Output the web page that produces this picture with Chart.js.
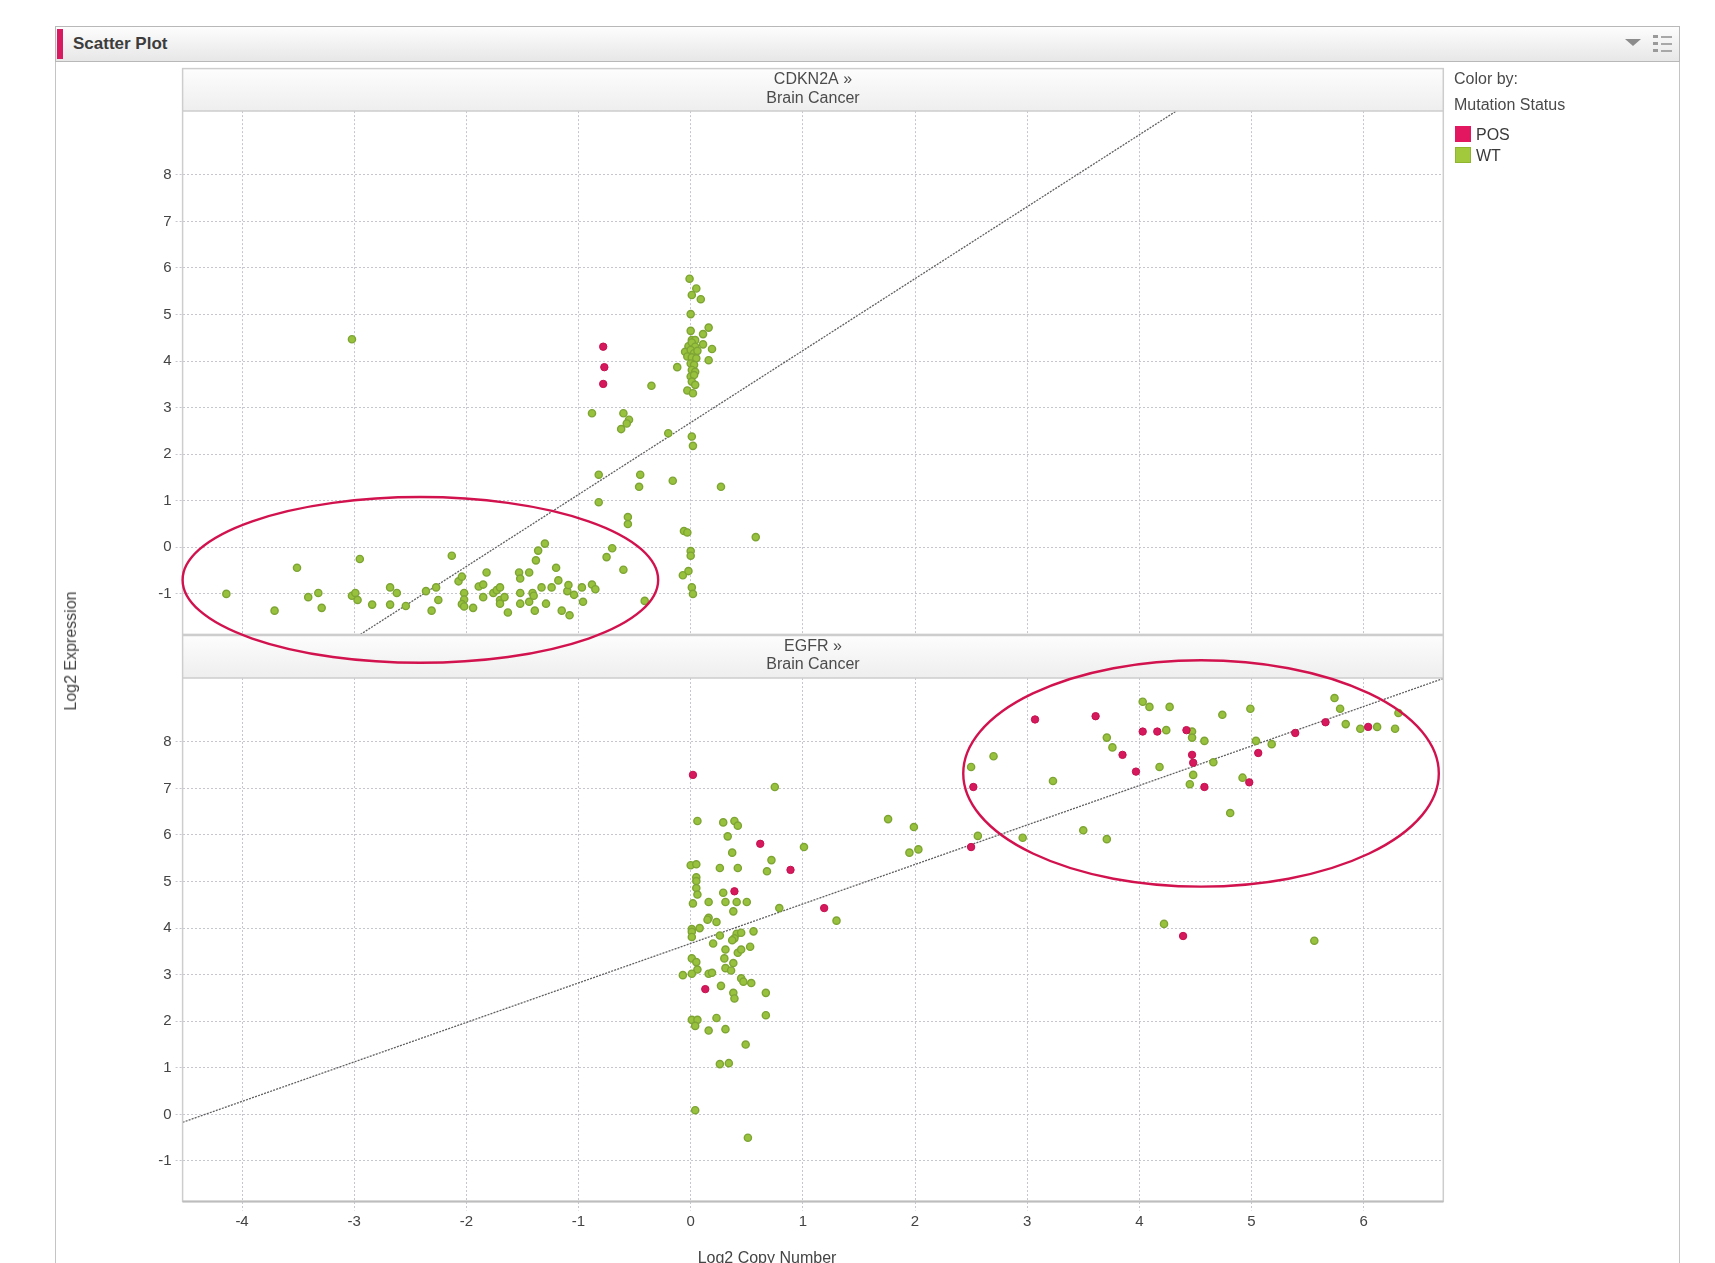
<!DOCTYPE html>
<html>
<head>
<meta charset="utf-8">
<title>Scatter Plot</title>
<script src="https://cdn.jsdelivr.net/npm/chart.js@4.4.1/dist/chart.umd.min.js"></script>
<style>
  html, body { margin: 0; padding: 0; background: #fff; }
  body { width: 1715px; height: 1263px; overflow: hidden; position: relative;
         font-family: "Liberation Sans", Arial, sans-serif; color: #444; }
  .frame { position: absolute; left: 55px; top: 26px; width: 1625px; height: 1300px;
           box-sizing: border-box; border: 1px solid #c4c4c4; }
  .bar { position: absolute; left: 55px; top: 26px; width: 1625px; height: 36px; box-sizing: border-box;
         border: 1px solid #b8b8b8; background: linear-gradient(#fdfdfd, #e7e7e7); }
  .accent { position: absolute; left: 57px; top: 29px; width: 6px; height: 30px; background: #d81b60; }
  .bar-title { position: absolute; left: 73px; top: 26px; line-height: 36px; font-size: 17px;
               font-weight: bold; color: #3c3c3c; }
  .drop { position: absolute; left: 1625px; top: 39px; width: 0; height: 0;
          border-left: 8px solid transparent; border-right: 8px solid transparent; border-top: 7px solid #8c8c8c; }
  .list-icon { position: absolute; left: 1653px; top: 35px; width: 19px; height: 19px; }
  .list-icon span { position: absolute; left: 0; width: 5px; height: 3px; background: #9a9a9a; }
  .list-icon i { position: absolute; left: 8px; width: 11px; height: 1.5px; background: #a8a8a8; }
  canvas { position: absolute; left: 0; top: 0; }
  #topChart { z-index: 3; }
  #bottomChart { z-index: 2; }
  .ytitle { position: absolute; left: 71px; top: 651px; transform: translate(-50%, -50%) rotate(-90deg);
            white-space: nowrap; font-size: 16px; color: #444; z-index: 4; }
  .xtitle { position: absolute; left: 767px; top: 1258px; transform: translate(-50%, -50%);
            white-space: nowrap; font-size: 16px; color: #444; z-index: 4; }
  .legend { position: absolute; left: 1454px; top: 68px; font-size: 16px; color: #4a4a4a; z-index: 4; }
  .legend .row { position: relative; height: 21px; line-height: 21px; }
  .legend .sw { position: absolute; left: 1px; top: 2px; width: 16px; height: 16px; box-sizing: border-box; }
  .legend .lbl { position: absolute; left: 22px; top: 0; color: #3a3a3a; }
</style>
</head>
<body>
<div class="frame"></div>
<div class="bar"></div>
<div class="accent"></div>
<div class="bar-title">Scatter Plot</div>
<div class="drop"></div>
<div class="list-icon">
  <span style="top:0"></span><i style="top:1px"></i>
  <span style="top:7px"></span><i style="top:8px"></i>
  <span style="top:14px"></span><i style="top:15px"></i>
</div>

<canvas id="topChart" width="1715" height="700"></canvas>
<canvas id="bottomChart" width="1715" height="1290"></canvas>

<div class="ytitle">Log2 Expression</div>
<div class="xtitle">Log2 Copy Number</div>
<div class="legend" id="legend"></div>

<script>
// tick values shown on the axes
const xTicks = [-4, -3, -2, -1, 0, 1, 2, 3, 4, 5, 6];
const yTicks = [-1, 0, 1, 2, 3, 4, 5, 6, 7, 8];

const seriesNames = ["POS", "WT"];

// CDKN2A, Brain Cancer: [copy number, expression]
const cdkn2aPos = [[-0.78, 4.31], [-0.77, 3.87], [-0.78, 3.51]];
const cdkn2aWt = [
  [-4.14, -1.00], [-3.71, -1.36], [-3.51, -0.44], [-3.41, -1.07], [-3.32, -0.98], [-3.29, -1.30],
  [-3.02, -1.04], [-2.99, -0.98], [-2.97, -1.13], [-2.95, -0.25], [-2.84, -1.23], [-2.68, -0.86],
  [-2.68, -1.23], [-2.62, -0.98], [-2.54, -1.26], [-2.36, -0.94], [-2.31, -1.36], [-2.27, -0.86],
  [-2.25, -1.13], [-2.13, -0.18], [-2.07, -0.73], [-2.04, -0.63], [-2.02, -0.98], [-2.02, -1.12],
  [-2.04, -1.22], [-2.02, -1.27], [-1.94, -1.30], [-1.89, -0.84], [-1.85, -0.80], [-1.85, -1.07],
  [-1.82, -0.54], [-1.76, -0.98], [-1.73, -0.92], [-1.70, -0.86], [-1.70, -1.13], [-1.70, -1.21],
  [-1.66, -1.07], [-1.63, -1.40], [-1.53, -0.54], [-1.52, -0.67], [-1.52, -0.98], [-1.52, -1.21],
  [-1.44, -0.54], [-1.44, -1.17], [-1.41, -0.98], [-1.40, -1.04], [-1.39, -1.36], [-1.38, -0.28],
  [-1.36, -0.07], [-1.33, -0.86], [-1.30, 0.08], [-1.29, -1.21], [-1.24, -0.86], [-1.20, -0.44],
  [-1.18, -0.71], [-1.15, -1.36], [-1.10, -0.94], [-1.09, -0.81], [-1.08, -1.46], [-1.04, -1.02],
  [-0.97, -0.86], [-0.96, -1.17], [-0.88, -0.80], [-0.85, -0.90], [-0.75, -0.21], [-0.70, -0.02],
  [-0.60, -0.48], [-0.41, -1.15],
  [-3.02, 4.47],
  [-0.88, 2.88], [-0.82, 1.56], [-0.82, 0.97], [-0.60, 2.88], [-0.55, 2.74], [-0.57, 2.66],
  [-0.62, 2.54], [-0.56, 0.65], [-0.56, 0.50], [-0.45, 1.56], [-0.46, 1.30], [-0.35, 3.47],
  [-0.20, 2.45], [-0.16, 1.43], [-0.12, 3.87], [-0.06, 0.35], [-0.03, 0.32], [-0.07, -0.60],
  [-0.02, -0.51], [0.00, -0.08], [0.00, -0.18], [0.01, -0.86], [0.02, -1.00], [0.27, 1.30],
  [0.58, 0.22], [0.01, 2.38], [0.02, 2.18],
  [-0.01, 5.77], [0.05, 5.56], [0.01, 5.42], [0.09, 5.33], [0.00, 5.01], [0.00, 4.65],
  [0.16, 4.72], [0.11, 4.58], [0.19, 4.26], [0.16, 4.02], [0.11, 4.36], [-0.03, 3.37], [0.02, 3.31],
  [0.01, 4.45], [0.04, 4.45], [-0.02, 4.32], [0.01, 4.40], [0.04, 4.31], [-0.05, 4.20], [0.00, 4.24],
  [0.03, 4.17], [0.06, 4.22], [-0.03, 4.10], [0.01, 4.08], [0.05, 4.06], [0.00, 3.95], [0.03, 3.92],
  [0.01, 3.81], [0.04, 3.77], [0.00, 3.67], [0.03, 3.70], [0.01, 3.56], [0.04, 3.49]
];
const cdkn2aFit = [[-4.53, -4.32], [6.71, 13.05]];

// EGFR, Brain Cancer
const egfrPos = [
  [0.02, 7.29], [0.62, 5.81], [0.89, 5.25], [0.39, 4.79], [1.19, 4.43], [0.13, 2.69],
  [2.50, 5.74], [2.52, 7.03], [3.07, 8.48], [3.61, 8.55], [3.85, 7.72], [3.97, 7.36],
  [4.03, 8.22], [4.16, 8.22], [4.42, 8.25], [4.47, 7.72], [4.48, 7.55], [4.58, 7.03],
  [4.98, 7.13], [5.06, 7.76], [5.39, 8.19], [5.66, 8.42], [6.04, 8.32], [4.39, 3.83]
];
const egfrWt = [
  [0.75, 7.03], [1.76, 6.34], [1.99, 6.17], [1.95, 5.62], [2.03, 5.69], [0.06, 6.30],
  [0.29, 6.27], [0.39, 6.30], [0.42, 6.20], [0.33, 5.97], [0.37, 5.62], [1.01, 5.74],
  [0.72, 5.46], [0.68, 5.22], [0.00, 5.35], [0.05, 5.37], [0.26, 5.29], [0.42, 5.29],
  [0.05, 5.09], [0.05, 5.01], [0.05, 4.86], [0.06, 4.72], [0.02, 4.53], [0.16, 4.56],
  [0.29, 4.76], [0.31, 4.56], [0.41, 4.56], [0.50, 4.56], [0.38, 4.36], [0.79, 4.43],
  [1.30, 4.16], [0.16, 4.22], [0.15, 4.18], [0.23, 4.13], [0.01, 3.98], [0.01, 3.92],
  [0.01, 3.81], [0.08, 4.00], [0.26, 3.84], [0.20, 3.67], [0.41, 3.88], [0.45, 3.90],
  [0.39, 3.78], [0.37, 3.74], [0.56, 3.93], [0.53, 3.60], [0.31, 3.54], [0.42, 3.47],
  [0.45, 3.54], [0.30, 3.35], [0.38, 3.25], [0.01, 3.35], [0.05, 3.27], [0.06, 3.11],
  [0.31, 3.14], [0.36, 3.09], [-0.07, 2.99], [0.01, 3.02], [0.16, 3.02], [0.19, 3.04],
  [0.45, 2.92], [0.47, 2.85], [0.54, 2.82], [0.27, 2.76], [0.38, 2.61], [0.39, 2.49],
  [0.67, 2.61], [0.67, 2.13], [0.01, 2.03], [0.06, 2.03], [0.04, 1.90], [0.23, 2.07],
  [0.16, 1.80], [0.31, 1.83], [0.49, 1.50], [0.26, 1.08], [0.34, 1.10], [0.04, 0.09],
  [0.51, -0.50],
  [2.50, 7.46], [2.56, 5.98], [2.70, 7.69], [2.96, 5.94], [3.23, 7.16], [3.50, 6.10],
  [3.71, 5.91], [3.71, 8.09], [3.76, 7.88], [4.03, 8.86], [4.09, 8.75], [4.27, 8.75],
  [4.24, 8.25], [4.18, 7.46], [4.47, 8.22], [4.47, 8.09], [4.58, 8.02], [4.66, 7.56],
  [4.48, 7.29], [4.45, 7.09], [4.74, 8.58], [4.92, 7.23], [4.81, 6.47], [4.99, 8.71],
  [5.04, 8.02], [5.18, 7.95], [5.74, 8.94], [5.79, 8.71], [5.84, 8.38], [5.97, 8.28],
  [6.12, 8.32], [6.28, 8.28], [6.31, 8.62], [4.22, 4.09], [5.56, 3.73]
];
const egfrFit = [[-4.53, -0.17], [6.71, 9.36]];

// circled regions (centre and radii in data units)
const cdkn2aCircle = [-2.41, -0.70, 2.12, 1.78];
const egfrCircle = [4.55, 7.32, 2.12, 2.43];

const posColor = "#d6185c";
const wtColor = "#98c13e";
const FONT = '"Liberation Sans", Arial, sans-serif';

// legend
const legendEl = document.getElementById("legend");
legendEl.innerHTML =
  '<div class="row">Color by:</div>' +
  '<div class="row" style="margin-top:5px">Mutation Status</div>' +
  '<div class="row" style="margin-top:9px"><div class="sw" style="background:#e3175f"></div><div class="lbl">' + seriesNames[0] + '</div></div>' +
  '<div class="row"><div class="sw" style="background:#a2c83c;border:1px solid #8fb52f"></div><div class="lbl">' + seriesNames[1] + '</div></div>';

const toXY = arr => arr.map(p => ({ x: p[0], y: p[1] }));

const panelPlugin = {
  id: "panel",
  beforeDraw(chart, args, opts) {
    const { ctx, chartArea: a } = chart;
    const top = a.top - 42.5;
    ctx.save();
    const g = ctx.createLinearGradient(0, top, 0, a.top);
    g.addColorStop(0, "#fdfdfd");
    g.addColorStop(1, "#eeeeee");
    ctx.fillStyle = g;
    ctx.fillRect(a.left, top, a.right - a.left, a.top - top);
    ctx.fillStyle = "#ffffff";
    ctx.fillRect(a.left, a.top, a.right - a.left, a.bottom - a.top);
    ctx.font = "16px " + FONT;
    ctx.fillStyle = "#4b4b4b";
    ctx.textAlign = "center";
    ctx.textBaseline = "middle";
    const cx = (a.left + a.right) / 2;
    ctx.fillText(opts.gene + " \u00bb", cx, top + 11);
    ctx.fillText(opts.tissue, cx, top + 29.5);
    ctx.restore();
  },
  afterDraw(chart, args, opts) {
    const { ctx, chartArea: a, scales } = chart;
    const top = a.top - 42.5;
    ctx.save();
    ctx.strokeStyle = "#cdcdcd";
    ctx.lineWidth = 1.5;
    ctx.strokeRect(a.left, top, a.right - a.left, a.bottom - top);
    ctx.beginPath();
    ctx.moveTo(a.left, a.top);
    ctx.lineTo(a.right, a.top);
    ctx.stroke();
    if (opts.bottomEdge) {
      ctx.strokeStyle = "#bdbdbd";
      ctx.lineWidth = 2;
      ctx.beginPath();
      ctx.moveTo(a.left, a.bottom);
      ctx.lineTo(a.right, a.bottom);
      ctx.stroke();
    }
    const c = opts.circle;
    const x = scales.x, y = scales.y;
    const px = x.getPixelForValue(c[0]);
    const py = y.getPixelForValue(c[1]);
    const rx = x.getPixelForValue(c[0] + c[2]) - px;
    const ry = py - y.getPixelForValue(c[1] + c[3]);
    ctx.strokeStyle = "#d2124e";
    ctx.lineWidth = 2.4;
    ctx.beginPath();
    ctx.ellipse(px, py, rx, ry, 0, 0, Math.PI * 2);
    ctx.stroke();
    ctx.restore();
  }
};

function makeChart(id, pos, wt, fit, meta, showX, padding) {
  const gridColor = "#c6c6cf";
  return new Chart(document.getElementById(id), {
    type: "scatter",
    data: {
      datasets: [
        { label: seriesNames[0], data: toXY(pos), backgroundColor: posColor, borderColor: "#c4114f",
          borderWidth: 1, pointRadius: 3.7 },
        { label: seriesNames[1], data: toXY(wt), backgroundColor: wtColor, borderColor: "#7ea534",
          borderWidth: 1.4, pointRadius: 3.6 },
        { label: "fit", data: toXY(fit), showLine: true, pointRadius: 0, borderColor: "#606060",
          borderWidth: 1.3, borderDash: [2, 1.2], fill: false }
      ]
    },
    options: {
      responsive: false,
      animation: false,
      devicePixelRatio: 1,
      layout: { padding: padding },
      plugins: {
        legend: { display: false },
        tooltip: { enabled: false },
        panel: meta
      },
      scales: {
        x: {
          type: "linear", min: -4.53, max: 6.71,
          afterBuildTicks: s => { s.ticks = xTicks.map(v => ({ value: v })); },
          afterFit: s => { s.height = showX ? 40 : 0; },
          grid: { color: gridColor, lineWidth: 1, drawTicks: showX, tickLength: 9,
                  tickColor: gridColor, tickBorderDash: [2, 2] },
          border: { display: false, dash: [2, 2] },
          ticks: { display: showX, padding: 2, color: "#444", font: { family: FONT, size: 15 },
                   callback: v => String(v) }
        },
        y: {
          type: "linear", min: -1.87, max: 9.37,
          afterBuildTicks: s => { s.ticks = yTicks.map(v => ({ value: v })); },
          afterFit: s => { s.width = 40; },
          grid: { color: gridColor, lineWidth: 1, drawTicks: true, tickLength: 7,
                  tickColor: gridColor, tickBorderDash: [2, 2] },
          border: { display: false, dash: [2, 2] },
          ticks: { padding: 4, color: "#444", font: { family: FONT, size: 15 },
                   callback: v => String(v) }
        }
      }
    },
    plugins: [panelPlugin]
  });
}

makeChart("topChart", cdkn2aPos, cdkn2aWt, cdkn2aFit,
  { gene: "CDKN2A", tissue: "Brain Cancer", circle: cdkn2aCircle, bottomEdge: false },
  false, { left: 142.6, right: 271.7, top: 111.1, bottom: 65.6 });

makeChart("bottomChart", egfrPos, egfrWt, egfrFit,
  { gene: "EGFR", tissue: "Brain Cancer", circle: egfrCircle, bottomEdge: true },
  true, { left: 142.6, right: 271.7, top: 678, bottom: 48.5 });
</script>
</body>
</html>
